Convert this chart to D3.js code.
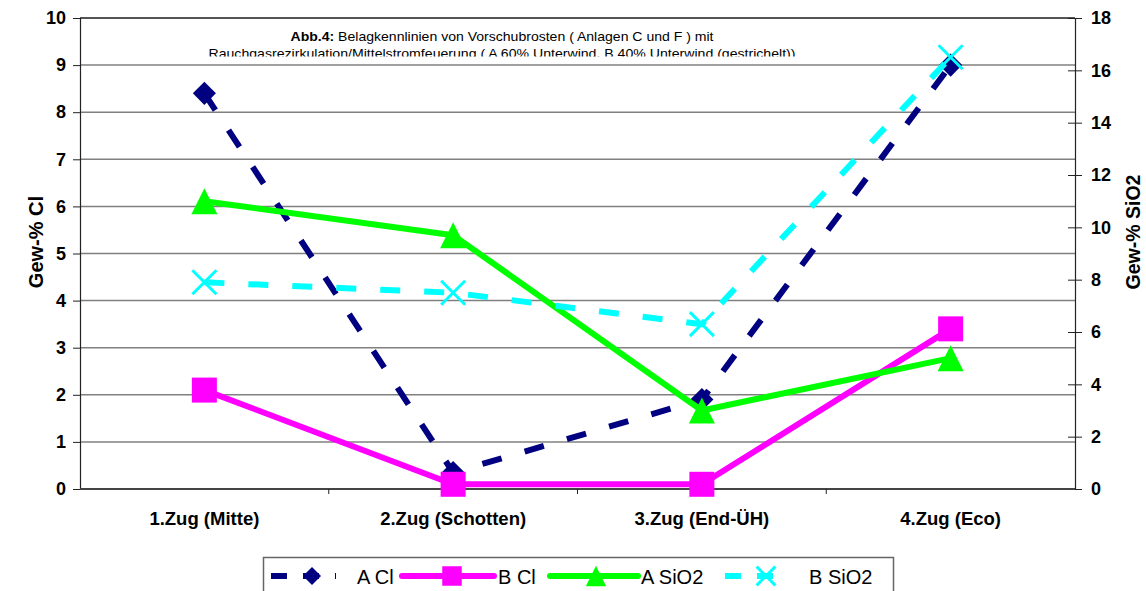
<!DOCTYPE html>
<html>
<head>
<meta charset="utf-8">
<script src="https://cdn.jsdelivr.net/npm/d3@7"></script>
<style>
  html, body { margin: 0; padding: 0; background: #fff; }
  svg { display: block; font-family: "Liberation Sans", Arial, sans-serif; }
</style>
</head>
<body>
<svg id="chart" width="1146" height="591"></svg>
<script>
// Zones of the boiler (category axis)
const categories = ["1.Zug (Mitte)", "2.Zug (Schotten)", "3.Zug (End-ÜH)", "4.Zug (Eco)"];

// Chloride content, primary axis (Gew-% Cl)
const aCl = [8.4, 0.35, 1.9, 9.0];
const bCl = [2.1, 0.1, 0.1, 3.4];

// Silica content, secondary axis (Gew-% SiO2)
const aSiO2 = [11.0, 9.7, 3.0, 5.0];
const bSiO2 = [7.9, 7.5, 6.3, 16.5];

// Axis ticks
const clTicks = [0, 1, 2, 3, 4, 5, 6, 7, 8, 9, 10];
const sio2Ticks = [0, 2, 4, 6, 8, 10, 12, 14, 16, 18];

const titleBold = "Abb.4:";
const titleRest = " Belagkennlinien von Vorschubrosten ( Anlagen C und F ) mit";
const titleLine2 = "Rauchgasrezirkulation/Mittelstromfeuerung ( A 60% Unterwind, B 40% Unterwind (gestrichelt))";

const svg = d3.select("#chart");
const plot = { left: 80, right: 1075, top: 18, bottom: 489 };

const x = d3.scaleBand().domain(categories).range([plot.left, plot.right]);
const cx = c => x(c) + x.bandwidth() / 2;
const yL = d3.scaleLinear().domain([0, 10]).range([plot.bottom, plot.top]);
const yR = d3.scaleLinear().domain([0, 18]).range([plot.bottom, plot.top]);

// Horizontal gridlines on the primary scale
svg.append("g").selectAll("line").data(clTicks.filter(t => t > 0)).join("line")
  .attr("x1", plot.left).attr("x2", plot.right)
  .attr("y1", d => yL(d)).attr("y2", d => yL(d))
  .attr("stroke", d => d === 10 ? "#555" : "#808080")
  .attr("stroke-width", d => d === 10 ? 2 : 1.5);

// Title block, second line cut off by its frame
const clip = svg.append("clipPath").attr("id", "titleClip");
clip.append("rect").attr("x", 150).attr("y", 20).attr("width", 750).attr("height", 36.5);
const title = svg.append("g").attr("clip-path", "url(#titleClip)");
const t1 = title.append("text").attr("x", 502).attr("y", 41).attr("text-anchor", "middle")
  .attr("font-size", 13).attr("fill", "#000")
  .attr("textLength", 423).attr("lengthAdjust", "spacingAndGlyphs");
t1.append("tspan").attr("font-weight", "bold").text(titleBold);
t1.append("tspan").text(titleRest);
title.append("text").attr("x", 502).attr("y", 57.5).attr("text-anchor", "middle")
  .attr("font-size", 13).attr("fill", "#000")
  .attr("textLength", 587).attr("lengthAdjust", "spacingAndGlyphs")
  .text(titleLine2);

// Left axis
const axL = svg.append("g").attr("transform", `translate(${plot.left},0)`)
  .call(d3.axisLeft(yL).tickValues(clTicks).tickSize(7).tickPadding(7).tickFormat(d3.format("d")));
axL.select(".domain").attr("stroke", "#222").attr("stroke-width", 1.2);
axL.selectAll(".tick line").attr("stroke", "#222");
axL.selectAll("text").attr("font-size", 18).attr("font-weight", "bold").attr("font-family", "Liberation Sans, Arial, sans-serif").attr("fill", "#000");

// Right axis, ticks cross the line
const axR = svg.append("g").attr("transform", `translate(${plot.right},0)`)
  .call(d3.axisRight(yR).tickValues(sio2Ticks).tickSize(7).tickPadding(9).tickFormat(d3.format("d")));
axR.select(".domain").attr("stroke", "#222").attr("stroke-width", 1.2);
axR.selectAll(".tick line").attr("stroke", "#222").attr("x1", -7);
axR.selectAll("text").attr("font-size", 18).attr("font-weight", "bold").attr("font-family", "Liberation Sans, Arial, sans-serif").attr("fill", "#000");

// Category axis
svg.append("line").attr("x1", plot.left).attr("x2", plot.right)
  .attr("y1", plot.bottom).attr("y2", plot.bottom)
  .attr("stroke", "#444").attr("stroke-width", 2);
svg.append("g").selectAll("line").data(categories.slice(1)).join("line")
  .attr("x1", d => x(d)).attr("x2", d => x(d))
  .attr("y1", plot.bottom).attr("y2", plot.bottom + 5)
  .attr("stroke", "#222");
svg.append("g").selectAll("text").data(categories).join("text")
  .attr("x", d => cx(d)).attr("y", 525)
  .attr("text-anchor", "middle").attr("font-size", 18.5).attr("font-weight", "bold")
  .text(d => d);

// Axis titles
svg.append("text").attr("transform", "translate(43,242) rotate(-90)")
  .attr("text-anchor", "middle").attr("font-size", 20).attr("font-weight", "bold")
  .text("Gew-% Cl");
svg.append("text").attr("transform", "translate(1140,232) rotate(-90)")
  .attr("text-anchor", "middle").attr("font-size", 19.5).attr("font-weight", "bold")
  .text("Gew-% SiO2");

// Marker shapes (k scales the marker size)
function marker(g, kind, color, px, py, k = 1) {
  if (kind === "diamond") {
    g.append("path").attr("d", d3.symbol(d3.symbolDiamond2, 340 * k * k)())
      .attr("transform", `translate(${px},${py})`).attr("fill", color);
  } else if (kind === "square") {
    const h = 12.5 * k;
    g.append("rect").attr("x", px - h).attr("y", py - h)
      .attr("width", 2 * h).attr("height", 2 * h).attr("fill", color);
  } else if (kind === "triangle") {
    const h = 13 * k;
    g.append("path").attr("d", `M${px},${py - h}L${px + h},${py + h}L${px - h},${py + h}Z`)
      .attr("fill", color);
  } else if (kind === "x") {
    const h = 12 * k;
    g.append("path").attr("d", `M${px - h},${py - h}L${px + h},${py + h}M${px - h},${py + h}L${px + h},${py - h}`)
      .attr("stroke", color).attr("stroke-width", 3).attr("fill", "none");
  }
}

const series = [
  { name: "A Cl", values: aCl, y: yL, color: "#000080", dash: "20,24", kind: "diamond" },
  { name: "B Cl", values: bCl, y: yL, color: "#FF00FF", dash: null, kind: "square" },
  { name: "A SiO2", values: aSiO2, y: yR, color: "#00FF00", dash: null, kind: "triangle" },
  { name: "B SiO2", values: bSiO2, y: yR, color: "#00FFFF", dash: "20,24", kind: "x" }
];

series.forEach(s => {
  const g = svg.append("g");
  const pts = categories.map((c, i) => [cx(c), s.y(s.values[i])]);
  g.append("path").attr("d", d3.line()(pts))
    .attr("fill", "none").attr("stroke", s.color).attr("stroke-width", 6)
    .attr("stroke-linejoin", "round")
    .attr("stroke-dasharray", s.dash);
  pts.forEach(p => marker(g, s.kind, s.color, p[0], p[1]));
});

// Legend
const leg = svg.append("g");
leg.append("rect").attr("x", 263.5).attr("y", 557.5).attr("width", 630).attr("height", 40)
  .attr("fill", "#fff").attr("stroke", "#666").attr("stroke-width", 1.5);
const legItems = [
  { s: series[0], x0: 271, x1: 336, mx: 312, tx: 357 },
  { s: series[1], x0: 402, x1: 494, mx: 452, tx: 498 },
  { s: series[2], x0: 550, x1: 638, mx: 596, tx: 641 },
  { s: series[3], x0: 725, x1: 788, mx: 766, tx: 809 }
];
const ly = 576;
legItems.forEach(it => {
  const g = leg.append("g");
  g.append("line").attr("x1", it.x0).attr("x2", it.x1).attr("y1", ly).attr("y2", ly)
    .attr("stroke", it.s.color).attr("stroke-width", 6)
    .attr("stroke-linecap", it.s.dash ? "butt" : "round")
    .attr("stroke-dasharray", it.s.dash ? "16,16" : null);
  marker(g, it.s.kind, it.s.color, it.mx, ly, 0.78);
  g.append("text").attr("x", it.tx).attr("y", ly + 8).attr("font-size", 20).text(it.s.name);
});
</script>
</body>
</html>
